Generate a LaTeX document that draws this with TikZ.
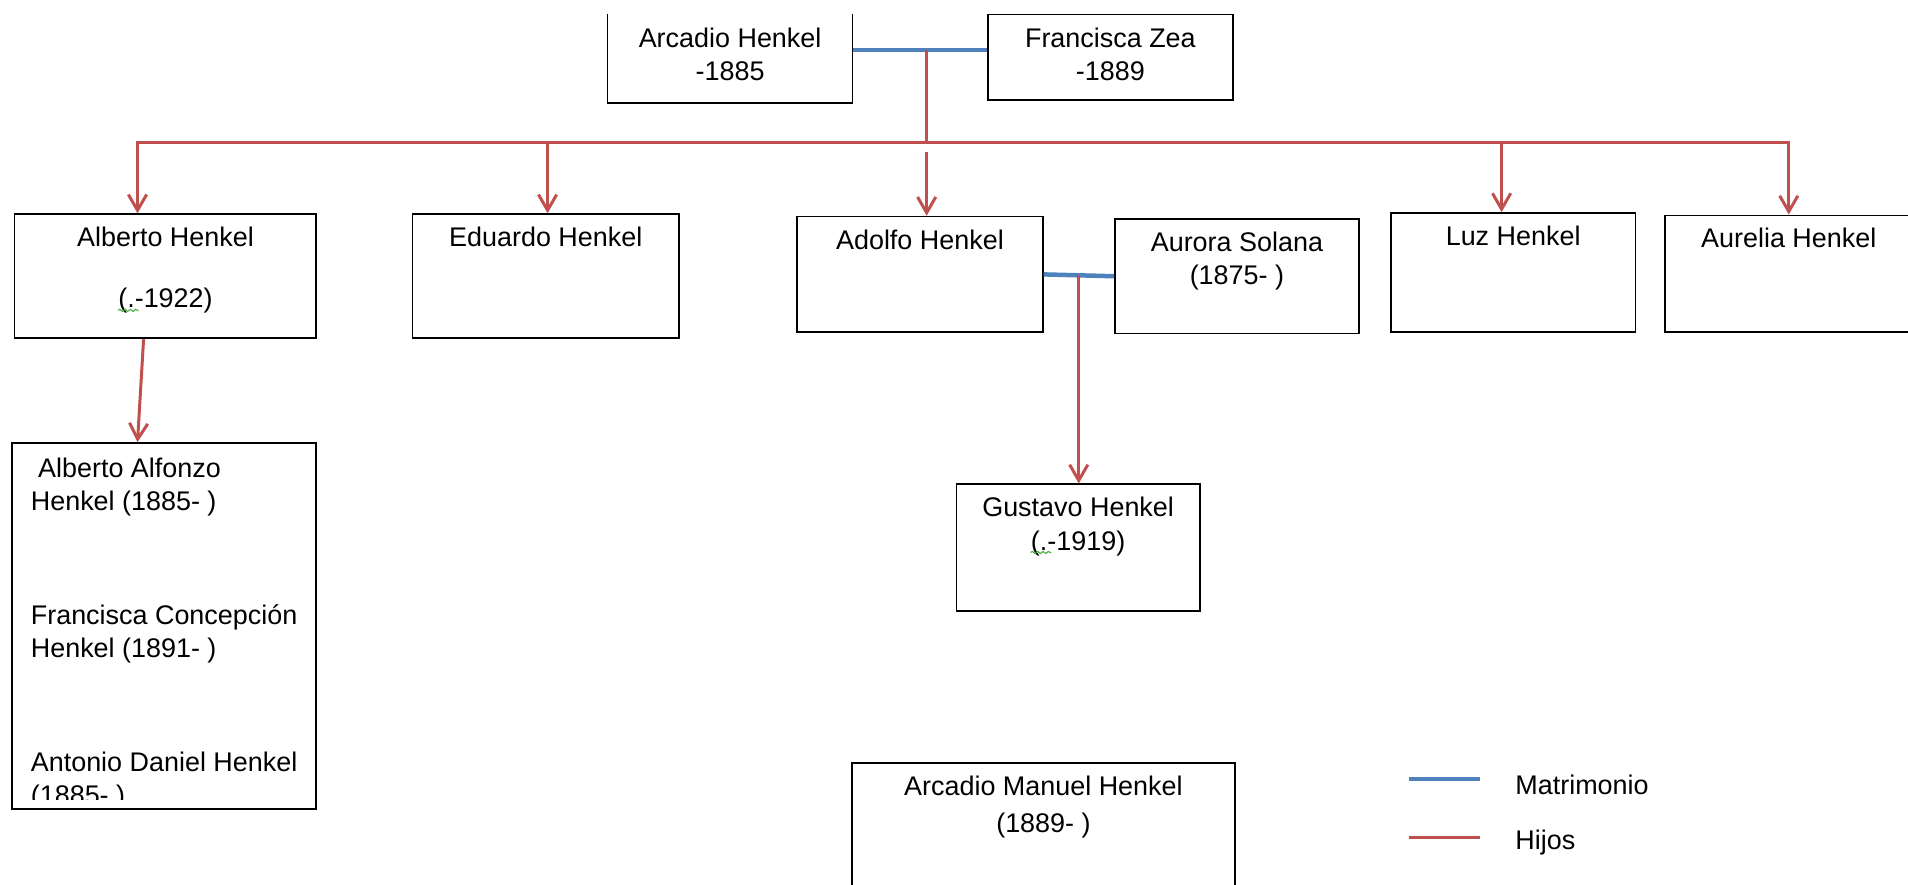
\documentclass[tikz,border=0pt]{standalone}
\usepackage{fontspec}
\setmainfont{Liberation Sans}
\usepackage{tikz}
\usetikzlibrary{
        arrows.meta,
        calc,
        decorations.pathmorphing,
        positioning
    }
\definecolor{azul}{RGB}{79,129,189}
\definecolor{rojo}{RGB}{192,80,77}
\definecolor{verde}{RGB}{70,170,60}
\tikzset{>={Straight Barb[length=2.6mm,width=3mm]}}
\tikzset{borde/.style={line width=0.8pt},
         persona/.style={draw,borde,inner sep=0pt},
         nombre/.style={anchor=north,align=center,inner sep=0pt,yshift=-0.22cm},
         lista/.style={anchor=north west,align=left,inner sep=0pt},
         matrimonio/.style={color=azul,line width=2.1pt},
         hijo/.style={color=rojo,line width=1.4pt},
         ondula/.style={draw=verde,line width=0.5pt,decorate,
                        decoration={snake,amplitude=0.5pt,segment length=2.5pt}}}

\begin{document}
\begin{tikzpicture}[x=0.02cm,y=-0.02cm,font=\fontsize{12.6}{15.6}\selectfont]
    \useasboundingbox (0,0) rectangle (1568,727);
                \node[persona,draw=none,minimum width=4cm,minimum height=1.44cm,
                      label={[nombre]north:{Arcadio Henkel\\-1885}}] (arcadio) at (600,48) {};
                \node[persona,minimum width=4.02cm,minimum height=1.4cm,
                      label={[nombre]north:{Francisca Zea\\-1889}}] (francisca) at (912.5,47) {};
                \node[persona,minimum width=4.96cm,minimum height=2.04cm,
                      label={[nombre,name=talberto]north:{Alberto Henkel\\[0.46cm](.-1922)}}] (alberto) at (136,227) {};
                \node[persona,minimum width=4.38cm,minimum height=2.04cm,
                      label={[nombre]north:{Eduardo Henkel}}] (eduardo) at (448.5,227) {};
                \node[persona,minimum width=4.04cm,minimum height=1.9cm,
                      label={[nombre]north:{Adolfo Henkel}}] (adolfo) at (756,225.5) {};
                \node[persona,minimum width=4.02cm,minimum height=1.88cm,
                      label={[nombre]north:{Aurora Solana\\(1875- )}}] (aurora) at (1016.5,227) {};
                \node[persona,minimum width=4.02cm,minimum height=1.96cm,
                      label={[nombre]north:{Luz Henkel}}] (luz) at (1243.5,224) {};
                \node[persona,minimum width=4.08cm,minimum height=1.92cm,
                      label={[nombre]north:{Aurelia Henkel}}] (aurelia) at (1470,225) {};
                \node[persona,minimum width=5cm,minimum height=6.02cm] (hijosalb) at (135,514.5) {};
                \node[persona,minimum width=4cm,minimum height=2.08cm,
                      label={[nombre,name=tgustavo]north:{Gustavo Henkel\\(.-1919)}}] (gustavo) at (886,450) {};
                \node[persona,minimum width=6.3cm,minimum height=2.26cm,
                      label={[nombre]north:{Arcadio Manuel Henkel\\[0.06cm](1889- )}}] (arcadiom) at (857.5,683.5) {};
                \draw[borde] (arcadio.north west) |- (arcadio.south east) -- (arcadio.north east);
    % hijos de Alberto, el texto queda cortado por la caja
            \begin{scope}
                \clip (hijosalb.north west) rectangle ([yshift=0.18cm]hijosalb.south east);
                \node[lista] (listaalb) at (25,375.6)
                    {\hspace*{0.12cm}Alberto Alfonzo\\Henkel (1885- )\\[1.32cm]Francisca Concepción\\Henkel (1891- )\\[1.32cm]Antonio Daniel Henkel\\(1885- )};
            \end{scope}
    % subrayado verde bajo "(."
            \draw[ondula] ([xshift=-0.78cm,yshift=0.06cm]talberto.south) -- ([xshift=-0.44cm,yshift=0.06cm]talberto.south);
            \draw[ondula] ([xshift=-0.78cm,yshift=0.06cm]tgustavo.south) -- ([xshift=-0.44cm,yshift=0.06cm]tgustavo.south);
                \coordinate (m1) at ([yshift=0.14cm]arcadio.east);
                \coordinate (m2) at (m1 -| francisca.west);
                \coordinate (u1) at ($(m1)!0.55!(m2)$);
                \coordinate (h1) at (113,117);
                \coordinate (h2) at (450,117);
                \coordinate (h3) at (u1 |- h1);
                \coordinate (h4) at (1234,117);
                \coordinate (h5) at (1470,117);
                \coordinate (u2) at ($(adolfo.east)!0.5!(aurora.west)$);
            \path[matrimonio]
                    (m1) edge (m2)
                    (adolfo.east) edge (aurora.west);
            \draw[hijo] (u1) -- (h3);
            \draw[hijo,->] (h3) -- (h1) -- (h1 |- alberto.north);
            \draw[hijo,->] (h3) -- (h5) -- (h5 |- aurelia.north);
            \path[hijo,->]
                    (h2) edge (h2 |- eduardo.north)
                    ([yshift=-0.16cm]h3) edge (h3 |- adolfo.north)
                    (h4) edge (h4 |- luz.north)
                    (u2) edge (u2 |- gustavo.north)
                    ([xshift=-0.36cm]alberto.south) edge ([xshift=-0.44cm]hijosalb.north);
    % leyenda
                \coordinate (lm1) at (1158,640);
                \coordinate (lm2) at (1216,640);
                \coordinate (lh1) at (1158,688);
                \coordinate (lh2) at (1216,688);
                \node[anchor=base west,inner sep=0pt] (tmatri) at (1245,653) {Matrimonio};
                \node[anchor=base west,inner sep=0pt] (thijos) at (1245,698) {Hijos};
            \path[matrimonio] (lm1) edge (lm2);
            \path[hijo] (lh1) edge (lh2);
\end{tikzpicture}
\end{document}
